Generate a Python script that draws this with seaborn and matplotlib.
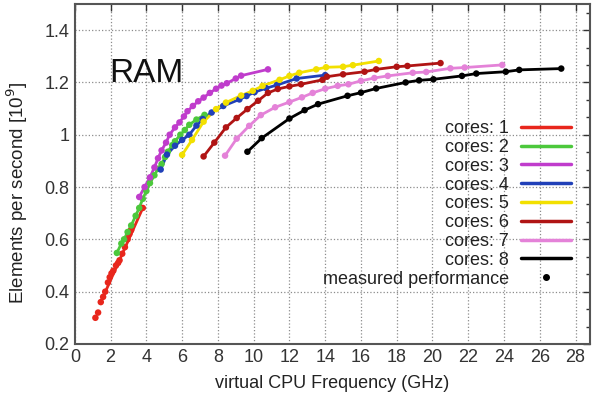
import numpy as np
import pandas as pd
import matplotlib
matplotlib.use("Agg")
import matplotlib.pyplot as plt
import seaborn as sns
from matplotlib.lines import Line2D
from matplotlib.ticker import MultipleLocator, AutoMinorLocator

# ---------------- data ----------------
core_labels = ["cores: 1", "cores: 2", "cores: 3", "cores: 4",
               "cores: 5", "cores: 6", "cores: 7", "cores: 8"]
core_colors = ["#e8261c", "#4cc83c", "#c03ccc", "#2040b8",
               "#f2e000", "#b01414", "#e482d8", "#000000"]

c1_x = [1.15, 1.3, 1.45, 1.58, 1.7, 1.85, 1.95, 2.05, 2.15, 2.3, 2.42, 2.5, 2.65, 2.8, 2.95, 3.05, 3.15, 3.8]
c1_y = [0.30, 0.32, 0.36, 0.38, 0.40, 0.435, 0.455, 0.47, 0.48, 0.50, 0.51, 0.52, 0.545, 0.57, 0.60, 0.62, 0.635, 0.72]
c1_fit_x = [1.45, 3.8]
c1_fit_y = [0.36, 0.72]

c2_x = [2.35, 2.6, 2.75, 2.95, 3.15, 3.4, 3.6, 3.8, 4.0, 4.2, 4.45, 4.65, 4.85, 5.05, 5.2, 5.45, 5.6, 5.9, 6.15, 6.4, 6.8, 7.25]
c2_y = [0.548, 0.584, 0.60, 0.628, 0.653, 0.69, 0.72, 0.755, 0.785, 0.815, 0.845, 0.87, 0.888, 0.915, 0.935, 0.96, 0.975, 1.0, 1.018, 1.038, 1.058, 1.076]

c3_x = [3.6, 3.9, 4.2, 4.45, 4.65, 4.85, 5.1, 5.3, 5.6, 5.85, 6.1, 6.3, 6.6, 6.9, 7.2, 7.55, 7.9, 8.2, 8.5, 9.0, 9.3, 10.8]
c3_y = [0.762, 0.80, 0.837, 0.875, 0.91, 0.94, 0.97, 1.0, 1.028, 1.047, 1.07, 1.09, 1.11, 1.128, 1.142, 1.16, 1.176, 1.188, 1.197, 1.215, 1.226, 1.25]

c4_x = [4.8, 5.15, 5.6, 6.0, 6.4, 6.8, 7.15, 7.65, 8.3, 9.2, 9.6, 10.05, 10.7, 11.3, 12.4, 14.0]
c4_y = [0.867, 0.924, 0.958, 0.98, 1.0, 1.035, 1.06, 1.085, 1.11, 1.135, 1.148, 1.163, 1.178, 1.19, 1.215, 1.228]

c5_x = [6.0, 6.55, 7.2, 7.9, 8.45, 9.3, 9.95, 10.5, 11.45, 12.0, 12.55, 13.5, 14.05, 15.0, 15.55, 17.0]
c5_y = [0.923, 0.98, 1.05, 1.098, 1.123, 1.15, 1.168, 1.187, 1.21, 1.225, 1.237, 1.25, 1.258, 1.26, 1.266, 1.282]

c6_x = [7.2, 7.8, 8.45, 9.05, 9.65, 10.25, 10.8, 11.35, 12.0, 12.65, 13.85, 14.1, 15.0, 16.2, 16.85, 18.0, 18.6, 20.45]
c6_y = [0.917, 0.97, 1.028, 1.064, 1.098, 1.13, 1.16, 1.175, 1.185, 1.193, 1.21, 1.222, 1.231, 1.241, 1.25, 1.26, 1.263, 1.274]

c7_x = [8.4, 9.05, 9.75, 10.4, 11.2, 12.0, 12.7, 13.3, 14.0, 14.7, 15.3, 16.0, 16.75, 17.5, 18.9, 19.65, 21.0, 21.8, 23.9]
c7_y = [0.92, 0.985, 1.034, 1.075, 1.105, 1.125, 1.143, 1.16, 1.176, 1.187, 1.193, 1.206, 1.217, 1.225, 1.237, 1.24, 1.254, 1.257, 1.267]

c8_x = [9.65, 10.45, 12.0, 12.85, 13.6, 15.25, 16.0, 16.85, 18.5, 19.25, 20.05, 21.65, 22.45, 24.1, 24.85, 27.2]
c8_y = [0.935, 0.987, 1.062, 1.094, 1.117, 1.149, 1.161, 1.177, 1.2, 1.208, 1.212, 1.225, 1.234, 1.241, 1.248, 1.253]

x_ticks = list(range(0, 29, 2))
y_ticks = [0.2, 0.4, 0.6, 0.8, 1.0, 1.2, 1.4]
y_tick_labels = ["0.2", "0.4", "0.6", "0.8", "1", "1.2", "1.4"]

# ---------------- frames ----------------
meas = [(c1_x, c1_y), (c2_x, c2_y), (c3_x, c3_y), (c4_x, c4_y),
        (c5_x, c5_y), (c6_x, c6_y), (c7_x, c7_y), (c8_x, c8_y)]
lines = [(c1_fit_x, c1_fit_y)] + meas[1:]

pts_df = pd.concat([pd.DataFrame({"x": x, "y": y, "cores": lab})
                    for (x, y), lab in zip(meas, core_labels)], ignore_index=True)
line_df = pd.concat([pd.DataFrame({"x": x, "y": y, "cores": lab})
                     for (x, y), lab in zip(lines, core_labels)], ignore_index=True)
palette = dict(zip(core_labels, core_colors))

# ---------------- plot ----------------
sns.set_theme(style="white")
plt.rcParams["font.family"] = ["Liberation Sans", "DejaVu Sans"]

fig = plt.figure(figsize=(5.94, 3.99), dpi=100)
ax = fig.add_axes([0.126, 0.138, 0.867, 0.852])

sns.lineplot(data=line_df, x="x", y="y", hue="cores", palette=palette,
             estimator=None, sort=True, linewidth=2.0, legend=False, ax=ax)
sns.scatterplot(data=pts_df, x="x", y="y", hue="cores", palette=palette,
                s=22, linewidth=0, legend=False, ax=ax, zorder=3)

ax.set_xlim(0, 28.8)
ax.set_ylim(0.2, 1.5)
ax.set_xticks(x_ticks)
ax.set_yticks(y_ticks)
ax.set_yticklabels(y_tick_labels)
ax.yaxis.set_minor_locator(AutoMinorLocator(3))
ax.tick_params(which="both", direction="in", top=True, right=True,
               labelsize=13, colors="#333333", pad=4)
ax.tick_params(which="major", length=5, width=1)
ax.tick_params(which="minor", length=3, width=1)
for s in ax.spines.values():
    s.set_color("#555555")
    s.set_linewidth(1.5)
ax.grid(True, which="major", linestyle=":", color="#8c8c8c", linewidth=0.9)

ax.set_xlabel("virtual CPU Frequency (GHz)", fontsize=13, color="#222222", labelpad=6)
ax.set_ylabel("Elements per second [10$^9$]", fontsize=13.5, color="#222222")
ax.yaxis.set_label_coords(-0.087, 0.445)

ax.text(1.95, 1.236, "RAM", fontsize=24, va="center", ha="left", color="#111111")

handles = [Line2D([0], [0], color=c, lw=2.5) for c in core_colors]
handles.append(Line2D([0], [0], color="black", lw=0, marker="o", markersize=4))
labels = core_labels + ["measured performance"]
leg = ax.legend(handles, labels, loc="upper right", bbox_to_anchor=(0.98, 0.685),
                markerfirst=False, frameon=False, fontsize=13, handlelength=2.75,
                labelspacing=0.1, handletextpad=0.65, borderpad=0)
for t in leg.get_texts():
    t.set_color("#222222")

fig.savefig("out.png", dpi=100)
